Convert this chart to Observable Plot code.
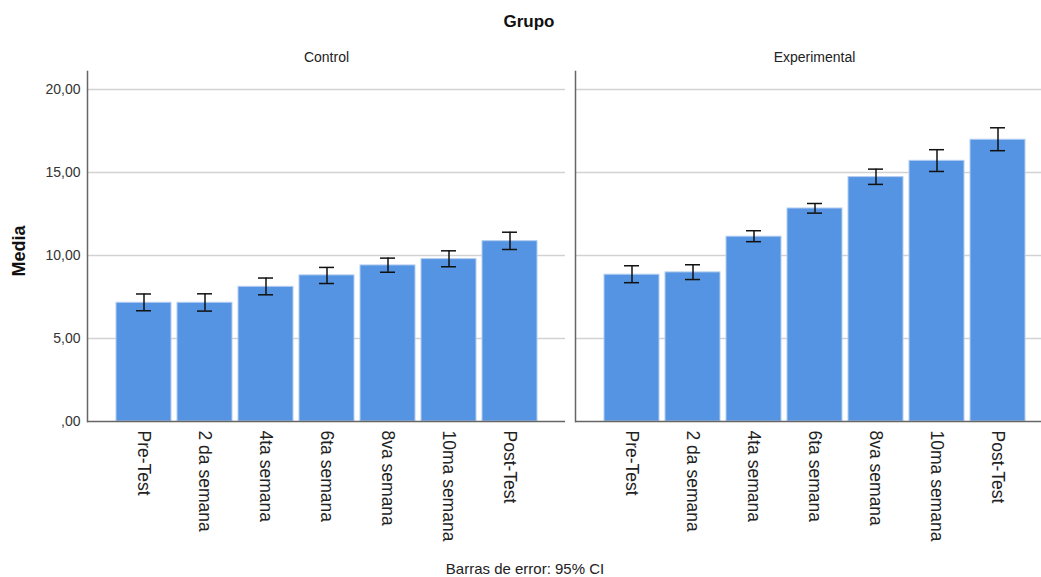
<!DOCTYPE html>
<html>
<head>
<meta charset="utf-8">
<script src="https://cdn.jsdelivr.net/npm/d3@7"></script>
<script src="https://cdn.jsdelivr.net/npm/@observablehq/plot@0.6"></script>
<style>
  html, body { margin: 0; padding: 0; background: #fff; overflow: hidden; }
  #wrap { position: relative; width: 1041px; height: 577px; overflow: hidden; font-family: "Liberation Sans", Arial, sans-serif; }
  #chart { position: absolute; left: 0; top: 0; }
  #title { position: absolute; top: 12px; left: 0; width: 1058px; text-align: center; font-weight: bold; font-size: 17px; line-height: 20px; color: #111; }
  #ylab { position: absolute; left: 19px; top: 251px; transform: translate(-50%, -50%) rotate(-90deg); font-weight: bold; font-size: 18px; line-height: 20px; color: #111; white-space: nowrap; }
  #cap { position: absolute; top: 560px; left: 0; width: 1050px; text-align: center; font-size: 15px; line-height: 18px; color: #222; }
  #chart svg { max-width: none !important; }
  #chart [aria-label^="x-axis"] text { font-size: 17.5px; fill: #222; }
  #chart [aria-label^="y-axis"] text { font-size: 14px; fill: #333; }
  #chart [aria-label^="fx-axis"] text { font-size: 14px; fill: #222; }
</style>
</head>
<body>
<div id="wrap">
  <div id="chart"></div>
  <div id="title">Grupo</div>
  <div id="ylab">Media</div>
  <div id="cap">Barras de error: 95% CI</div>
</div>
<script>
const grupos = ["Control", "Experimental"];
const semanas = ["Pre-Test", "2 da semana", "4ta semana", "6ta semana", "8va semana", "10ma semana", "Post-Test"];
const controlMedia = [7.15, 7.15, 8.11, 8.80, 9.40, 9.78, 10.86];
const controlLo    = [6.67, 6.65, 7.63, 8.31, 8.99, 9.32, 10.36];
const controlHi    = [7.68, 7.69, 8.64, 9.28, 9.84, 10.28, 11.40];
const expMedia     = [8.84, 8.98, 11.13, 12.83, 14.72, 15.70, 16.97];
const expLo        = [8.36, 8.55, 10.83, 12.55, 14.28, 15.06, 16.31];
const expHi        = [9.38, 9.44, 11.49, 13.13, 15.20, 16.37, 17.69];
const yTicks = [0, 5, 10, 15, 20];

const rows = [];
semanas.forEach((s, i) => {
  rows.push({grupo: grupos[0], sem: s, media: controlMedia[i], lo: controlLo[i], hi: controlHi[i]});
});
semanas.forEach((s, i) => {
  rows.push({grupo: grupos[1], sem: s, media: expMedia[i], lo: expLo[i], hi: expHi[i]});
});

const fmt = d => d === 0 ? ",00" : d.toFixed(2).replace(".", ",");

const chart = Plot.plot({
  width: 1053,
  height: 577,
  marginLeft: 87,
  marginRight: 0,
  marginTop: 71,
  marginBottom: 156,
  style: {fontFamily: "'Liberation Sans', Arial, sans-serif", background: "white", maxWidth: "none"},
  facet: {data: rows, x: "grupo"},
  fx: {domain: grupos, paddingInner: 0.0205, paddingOuter: 0, axis: "top", label: null, tickSize: 0, tickPadding: 10},
  x: {domain: semanas, paddingInner: 0.105, paddingOuter: 0.42, align: 0.5, tickRotate: 90, tickSize: 0, tickPadding: 9, label: null},
  y: {domain: [0, 21.08], ticks: yTicks, tickFormat: fmt, tickSize: 0, tickPadding: 7, label: null},
  marks: [
    Plot.gridY([5, 10, 15, 20], {stroke: "#d2d2d2", strokeOpacity: 1, strokeWidth: 1.5}),
    Plot.barY(rows, {x: "sem", y: "media", fill: "#5594e2", stroke: "#b3cdf1", strokeWidth: 1}),
    Plot.ruleX(rows, {x: "sem", y1: "lo", y2: "hi", stroke: "#111", strokeWidth: 1.5}),
    Plot.tickY(rows, {x: "sem", y: "lo", stroke: "#111", strokeWidth: 1.5, insetLeft: 20, insetRight: 20}),
    Plot.tickY(rows, {x: "sem", y: "hi", stroke: "#111", strokeWidth: 1.5, insetLeft: 20, insetRight: 20}),
    Plot.ruleY([0], {stroke: "#666", strokeWidth: 1.5}),
    Plot.frame({anchor: "left", stroke: "#666", strokeWidth: 1.5})
  ]
});
document.getElementById("chart").appendChild(chart);
</script>
</body>
</html>
